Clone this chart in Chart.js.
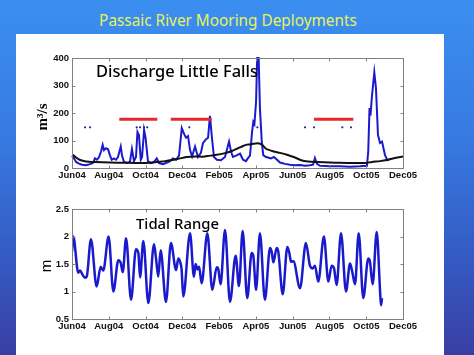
<!DOCTYPE html>
<html><head><meta charset="utf-8">
<script src="https://cdn.jsdelivr.net/npm/chart.js@4.4.1/dist/chart.umd.min.js"></script>
<style>
html,body{margin:0;padding:0;width:474px;height:355px;overflow:hidden;}
body{position:relative;background:linear-gradient(to bottom,#3b8ff0 0%,#3779e0 40%,#3458c0 75%,#3a3ea2 100%);}
#panel{position:absolute;left:16px;top:34px;width:428px;height:321px;background:#fff;}
#title{position:absolute;left:228px;top:11px;white-space:nowrap;color:#e8f35a;font-family:"Noto Sans",sans-serif;font-size:17px;line-height:17px;transform-origin:center center;}
canvas{position:absolute;}
</style></head>
<body>
<div id="panel"></div>
<div id="title">Passaic River Mooring Deployments</div>
<canvas id="c1" width="428" height="150" style="left:16px;top:34px"></canvas>
<canvas id="c2" width="428" height="171" style="left:16px;top:184px"></canvas>
<script>
// ---- data (x in months since Jun 2004) ----
const monthLabels = ["Jun04","Aug04","Oct04","Dec04","Feb05","Apr05","Jun05","Aug05","Oct05","Dec05"];

const dischargeMonths = [0.00,0.11,0.22,0.38,0.54,0.76,0.98,1.14,1.25,1.36,1.47,1.58,1.67,1.74,1.85,1.96,2.07,2.16,2.28,2.39,2.50,2.65,2.72,2.83,2.99,3.15,3.26,3.37,3.48,3.56,3.64,3.74,3.81,3.92,4.00,4.13,4.30,4.46,4.61,4.73,4.95,5.17,5.33,5.49,5.66,5.82,5.97,6.09,6.20,6.31,6.42,6.53,6.69,6.85,7.01,7.12,7.29,7.40,7.50,7.61,7.72,7.88,8.10,8.32,8.54,8.65,8.75,8.92,9.14,9.30,9.46,9.57,9.68,9.79,9.86,9.92,10.01,10.08,10.14,10.22,10.32,10.40,10.55,10.66,10.82,10.98,11.15,11.31,11.58,11.85,12.13,12.40,12.67,12.94,13.11,13.21,13.32,13.49,14.03,14.57,15.12,15.66,16.04,16.11,16.18,16.23,16.31,16.44,16.53,16.64,16.75,16.86,17.02,17.18];
const dischargeValues = [45,35,22,16,12,10,14,18,35,30,40,60,84,65,72,68,45,30,35,30,40,78,45,22,18,22,69,25,40,131,120,30,40,138,110,25,18,22,35,18,14,20,25,35,30,45,145,125,110,116,65,42,78,40,55,90,105,110,190,110,40,30,28,40,96,60,40,45,52,30,25,36,45,130,168,160,241,430,430,218,96,47,40,38,35,40,30,20,15,12,10,11,8,10,12,36,15,8,6,6,5,6,8,60,218,190,260,348,290,120,91,96,47,25];

const meanMonths = [0,0.22,0.44,0.76,1.25,2.07,2.88,3.70,4.24,4.62,5.06,5.44,5.87,6.25,6.69,7.12,7.50,7.78,8.32,8.70,8.97,9.30,9.52,9.84,10.11,10.33,10.55,10.88,11.31,11.69,12.13,12.51,12.83,13.38,14.03,14.57,15.39,15.93,16.31,16.75,17.18,17.56,18.0];
const meanValues = [50,38,29,24,22,20,19,18,19,22,25,29,35,40,42,41,45,47,54,62,70,80,85,88,90,85,70,62,55,48,38,27,24,22,20,19,18,18,22,25,30,36,42];

const dotMonths = [0.71,0.98,3.52,3.70,3.92,4.09,6.38,10.08,12.67,13.16,14.70,15.17];
const dotLevel = 148;

const deployStart = [2.57,5.37,13.16];
const deployEnd = [4.64,7.60,15.30];
const deployLevel = 177;

const tideMonths = [0.00,0.07,0.34,0.435,0.58,0.71,0.80,1.03,1.34,1.56,1.70,1.99,2.25,2.52,2.65,2.76,2.94,3.21,3.48,3.61,3.70,3.88,4.15,4.46,4.57,4.69,4.82,5.11,5.38,5.66,5.78,5.87,5.96,6.05,6.42,6.63,6.72,6.82,6.91,7.05,7.36,7.63,7.87,7.96,8.08,8.32,8.59,8.90,9.08,9.28,9.53,9.77,9.86,10.01,10.22,10.49,10.77,10.86,10.95,11.13,11.22,11.46,11.71,11.82,11.91,12.04,12.40,12.72,12.94,13.09,13.21,13.39,13.70,13.94,14.12,14.25,14.39,14.63,14.90,15.12,15.24,15.39,15.59,15.84,16.11,16.20,16.35,16.57,16.75,16.80,16.86];
const tideValues = [1.72,2.0,1.34,1.38,1.3,1.25,1.27,1.95,1.09,1.45,1.38,2.0,1.0,1.57,1.52,1.35,1.97,0.85,1.77,1.70,1.26,1.92,0.79,1.86,1.6,1.27,1.75,0.81,1.88,1.39,1.6,1.55,1.4,0.91,2.06,1.27,1.5,1.4,1.45,1.15,2.06,1.03,1.44,1.40,1.13,2.12,0.81,1.65,1.1,2.1,0.88,1.7,1.65,1.03,2.06,0.85,1.79,1.72,1.53,1.79,1.72,0.95,1.81,1.7,1.54,1.55,1.06,1.88,1.47,1.42,1.47,1.18,2.0,1.18,1.47,1.42,1.12,2.06,1.0,1.51,1.36,1.13,2.06,0.88,1.6,1.55,1.13,2.08,1.03,0.75,0.88];

const pts = (xs, ys) => xs.map((x, i) => ({x, y: ys[i]}));

// title width fit
(function(){
  const t = document.getElementById('title');
  const w = t.offsetWidth;
  t.style.transform = 'translateX(-50%) scaleX(' + (258 / w) + ')';
})();

const BLUE = '#1a1acc';
const tickFont = {family:'"Liberation Sans", Arial, sans-serif', weight:'bold', size:9.5};

const boxPlugin = {
  id: 'box',
  afterDatasetsDraw(chart, args, o) {
    const {ctx, chartArea: a, scales: {x, y}} = chart;
    ctx.save();
    ctx.strokeStyle = '#808080';
    ctx.lineWidth = 1;
    const L = Math.round(a.left) + 0.5, R = Math.round(a.right) + 0.5;
    const T = Math.round(a.top) + 0.5, B = Math.round(a.bottom) + 0.5;
    ctx.strokeRect(L, T, R - L, B - T);
    ctx.beginPath();
    const len = 3;
    x.ticks.forEach(t => {
      const px = Math.round(x.getPixelForValue(t.value)) + 0.5;
      ctx.moveTo(px, B); ctx.lineTo(px, B - len);
      ctx.moveTo(px, T); ctx.lineTo(px, T + len);
    });
    y.ticks.forEach(t => {
      const py = Math.round(y.getPixelForValue(t.value)) + 0.5;
      ctx.moveTo(L, py); ctx.lineTo(L + len, py);
      ctx.moveTo(R, py); ctx.lineTo(R - len, py);
    });
    ctx.stroke();
    if (o.inner) {
      const s = o.inner;
      ctx.font = '500 ' + s.size + 'px "Noto Sans", sans-serif';
      ctx.fillStyle = '#000';
      ctx.textAlign = 'left';
      ctx.textBaseline = 'alphabetic';
      const mw = ctx.measureText(s.text).width;
      ctx.save();
      ctx.translate(a.left + s.dx, a.top + s.dy);
      ctx.scale(s.width / mw, 1);
      ctx.fillText(s.text, 0, 0);
      ctx.restore();
    }
    if (o.ylab) {
      const s = o.ylab;
      ctx.save();
      ctx.translate(a.left + s.dx, (a.top + a.bottom) / 2 + s.dy);
      ctx.rotate(-Math.PI / 2);
      ctx.font = s.font;
      ctx.fillStyle = '#000';
      ctx.textAlign = 'center';
      ctx.textBaseline = 'alphabetic';
      ctx.fillText(s.text, 0, 0);
      ctx.restore();
    }
    ctx.restore();
  }
};

function xScale() {
  return {
    type: 'linear', min: 0, max: 18,
    grid: {display: false, drawTicks: false},
    border: {display: false},
    ticks: {stepSize: 2, autoSkip: false, maxRotation: 0, padding: 2, color: '#111', font: tickFont,
      callback: v => monthLabels[Math.round(v / 2)]},
    afterFit: s => { s.height = 16; s.paddingLeft = 0; s.paddingRight = 0; }
  };
}
function yScale(min, max, step) {
  return {
    min, max,
    grid: {display: false, drawTicks: false},
    border: {display: false},
    ticks: {stepSize: step, padding: 3, color: '#111', font: tickFont, callback: v => String(v)},
    afterFit: s => { s.width = 56; s.paddingTop = 0; s.paddingBottom = 0; }
  };
}

const common = {
  responsive: false, animation: false, events: [],
  plugins: {legend: {display: false}, tooltip: {enabled: false}, title: {display: false}}
};

const deployDatasets = deployStart.map((s, i) => ({
  data: [{x: s, y: deployLevel}, {x: deployEnd[i], y: deployLevel}],
  borderColor: '#e22a2a', borderWidth: 3, pointRadius: 0, order: 0, borderCapStyle: 'butt'
}));

new Chart(document.getElementById('c1'), {
  type: 'line',
  data: {datasets: [
    ...deployDatasets,
    {data: dotMonths.map(m => ({x: m, y: dotLevel})), showLine: false, pointRadius: 1.1,
      pointBackgroundColor: '#26269a', pointBorderWidth: 0, order: 1},
    {data: pts(meanMonths, meanValues), borderColor: '#111', borderWidth: 2, pointRadius: 0, tension: 0.2, order: 2},
    {data: pts(dischargeMonths, dischargeValues), borderColor: BLUE, borderWidth: 2, pointRadius: 0, tension: 0, order: 3, clip: 1}
  ]},
  options: Object.assign({}, common, {
    layout: {padding: {left: 0, right: 41, top: 24, bottom: 0}},
    scales: {x: xScale(), y: yScale(0, 400, 100)},
    plugins: Object.assign({}, common.plugins, {box: {
      inner: {text: 'Discharge Little Falls', dx: 24, dy: 19, width: 162, size: 16},
      ylab: {text: 'm³/s', dx: -25, dy: 4, font: 'bold 15px "Liberation Serif", "Times New Roman", serif'}
    }})
  }),
  plugins: [boxPlugin]
});

new Chart(document.getElementById('c2'), {
  type: 'line',
  data: {datasets: [
    {data: pts(tideMonths, tideValues), borderColor: BLUE, borderWidth: 2.5, pointRadius: 0,
      cubicInterpolationMode: 'monotone'}
  ]},
  options: Object.assign({}, common, {
    layout: {padding: {left: 0, right: 41, top: 25, bottom: 20}},
    scales: {x: xScale(), y: yScale(0.5, 2.5, 0.5)},
    plugins: Object.assign({}, common.plugins, {box: {
      inner: {text: 'Tidal Range', dx: 64, dy: 20, width: 83, size: 14},
      ylab: {text: 'm', dx: -21, dy: 2, font: '15px "Liberation Sans", Arial, sans-serif'}
    }})
  }),
  plugins: [boxPlugin]
});
</script>
</body></html>
